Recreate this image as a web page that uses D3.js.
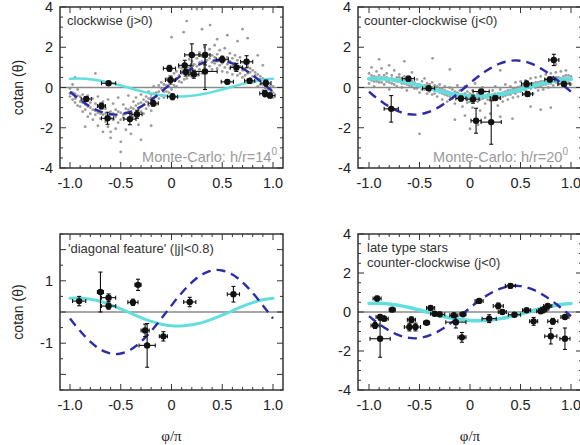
<!DOCTYPE html>
<html><head><meta charset="utf-8">
<script src="https://cdn.jsdelivr.net/npm/d3@7"></script>
<style>body{margin:0;background:#fff}svg{display:block}</style>
</head><body>
<script>
// ---------- DATA ----------
const xTickVals = [-1, -0.5, 0, 0.5, 1];
const xTickLabels = ["-1.0", "-0.5", "0", "0.5", "1.0"];
const yTickLabelsWide = [4, 2, 0, -2, -4];
const yTickLabelsNarrow = [1, -1];

// model curves
const dashX = [-1.0,-0.95,-0.9,-0.85,-0.8,-0.75,-0.7,-0.65,-0.6,-0.55,-0.5,-0.45,-0.4,-0.35,-0.3,-0.25,-0.2,-0.15,-0.1,-0.05,0,0.05,0.1,0.15,0.2,0.25,0.3,0.35,0.4,0.45,0.5,0.55,0.6,0.65,0.7,0.75,0.8,0.85,0.9,0.95,1.0];
const dashY = [-0.21,-0.42,-0.61,-0.79,-0.95,-1.09,-1.20,-1.28,-1.33,-1.35,-1.33,-1.28,-1.20,-1.09,-0.95,-0.79,-0.61,-0.42,-0.21,0,0.21,0.42,0.61,0.79,0.95,1.09,1.20,1.28,1.33,1.35,1.33,1.28,1.20,1.09,0.95,0.79,0.61,0.42,0.21,0,-0.21];
const cyanX = [-1.0,-0.9,-0.8,-0.7,-0.6,-0.5,-0.4,-0.3,-0.2,-0.1,0,0.1,0.2,0.3,0.4,0.5,0.6,0.7,0.8,0.9,1.0];
const cyanY = [0.44,0.45,0.41,0.34,0.23,0.10,-0.04,-0.18,-0.30,-0.39,-0.44,-0.45,-0.41,-0.34,-0.23,-0.10,0.04,0.18,0.30,0.39,0.44];

// Monte-Carlo clouds [x, y]
const cloudCW = [
[-1.0,-0.05],[-1.0,-0.45],[-0.975,-0.6],[-0.975,0.15],[-0.95,-0.3],[-0.95,-0.75],[-0.925,-0.1],[-0.925,-0.9],
[-0.9,-0.45],[-0.9,-0.95],[-0.875,-1.2],[-0.875,-0.35],[-0.85,-0.6],[-0.85,-1.1],[-0.825,-0.4],[-0.825,-1.45],
[-0.8,-0.75],[-0.8,-1.3],[-0.775,-1.6],[-0.775,-0.55],[-0.75,-0.8],[-0.75,-1.35],[-0.725,-0.45],[-0.725,-1.9],
[-0.7,-1.0],[-0.7,-1.55],[-0.675,-2.2],[-0.675,-0.7],[-0.65,-1.05],[-0.65,-1.7],[-0.625,-0.6],[-0.625,-1.95],
[-0.6,-1.2],[-0.6,-2.5],[-0.575,-0.8],[-0.575,-1.6],[-0.55,-1.1],[-0.55,-2.05],[-0.525,-0.5],[-0.525,-1.75],
[-0.5,-1.25],[-0.5,-2.7],[-0.475,-0.85],[-0.475,-1.5],[-0.45,-1.05],[-0.45,-2.1],[-0.425,-0.4],[-0.425,-1.6],
[-0.4,-1.0],[-0.4,-2.3],[-0.375,-0.7],[-0.375,-1.45],[-0.35,-1.25],[-0.35,-0.5],[-0.325,-0.8],[-0.325,-1.85],
[-0.3,-0.35],[-0.3,-1.2],[-0.275,-1.3],[-0.275,-0.6],[-0.25,-0.45],[-0.25,-1.05],[-0.225,-0.9],[-0.225,-0.2],
[-0.2,-0.35],[-0.2,-1.15],[-0.175,-0.7],[-0.175,0.05],[-0.15,-0.25],[-0.15,-0.85],[-0.125,0.1],[-0.125,-0.55],
[-0.1,-0.4],[-0.1,0.25],[-0.075,0.15],[-0.075,-0.5],[-0.05,-0.2],[-0.05,0.45],[-0.025,0.35],[-0.025,-0.25],
[0.0,0.5],[0.0,-0.1],[0.025,0.1],[0.025,0.7],[0.05,0.8],[0.05,0.05],[0.075,0.3],[0.075,1.0],
[0.1,0.95],[0.1,0.25],[0.125,0.4],[0.125,1.2],[0.15,1.1],[0.15,0.45],[0.175,0.6],[0.175,1.4],
[0.2,1.3],[0.2,0.55],[0.225,0.75],[0.225,1.6],[0.25,1.45],[0.25,0.6],[0.275,0.9],[0.275,1.75],
[0.3,1.55],[0.3,0.7],[0.325,1.0],[0.325,2.0],[0.35,1.7],[0.35,0.8],[0.375,1.05],[0.375,1.9],
[0.4,1.6],[0.4,0.9],[0.425,1.2],[0.425,2.1],[0.45,1.65],[0.45,0.95],[0.475,1.1],[0.475,1.85],
[0.5,1.55],[0.5,0.8],[0.525,1.0],[0.525,1.95],[0.55,1.5],[0.55,0.75],[0.575,0.95],[0.575,1.7],
[0.6,1.45],[0.6,0.65],[0.625,0.85],[0.625,1.6],[0.65,1.35],[0.65,0.6],[0.675,0.7],[0.675,1.5],
[0.7,1.25],[0.7,0.5],[0.725,0.6],[0.725,1.2],[0.75,1.05],[0.75,0.4],[0.775,0.45],[0.775,0.95],
[0.8,0.85],[0.8,0.25],[0.825,0.3],[0.825,0.75],[0.85,0.65],[0.85,0.05],[0.875,0.15],[0.875,0.55],
[0.9,0.45],[0.9,-0.15],[0.925,-0.05],[0.925,0.35],[0.95,0.2],[0.95,-0.35],[0.975,-0.3],[0.975,0.1],
[1.0,0.05],[1.0,-0.5],
[0.0,2.5],[0.15,3.3],[0.25,3.9],[0.3,2.9],[0.45,2.4],[0.55,2.6],[0.65,2.3],[0.7,2.9],[0.75,2.45],[0.12,2.75],
[0.38,3.1],[-0.85,-1.95],[-0.5,-3.2],[-0.3,-2.6],[-0.75,0.7],[-0.95,0.5],[-0.2,-1.9],[0.85,1.6],[0.9,1.1],[-0.6,-2.2]
];
const cloudCWcore = [
[-1.0,-0.3],[-0.975,-0.25],[-0.95,-0.55],[-0.925,-0.4],[-0.9,-0.7],[-0.875,-0.75],[-0.85,-0.85],[-0.825,-0.95],
[-0.8,-1.0],[-0.775,-1.1],[-0.75,-1.15],[-0.725,-1.25],[-0.7,-1.3],[-0.675,-1.35],[-0.65,-1.3],[-0.625,-1.4],
[-0.6,-1.55],[-0.575,-1.3],[-0.55,-1.45],[-0.525,-1.2],[-0.5,-1.6],[-0.475,-1.35],[-0.45,-1.25],[-0.425,-1.1],
[-0.4,-1.35],[-0.375,-1.05],[-0.35,-0.9],[-0.325,-1.1],[-0.3,-0.75],[-0.275,-0.85],[-0.25,-0.7],[-0.225,-0.55],
[-0.2,-0.5],[-0.175,-0.3],[-0.15,-0.45],[-0.125,-0.2],[-0.1,-0.05],[-0.075,-0.2],[-0.05,0.1],[-0.025,0.05],
[0.0,0.3],[0.025,0.4],[0.05,0.45],[0.075,0.6],[0.1,0.7],[0.125,0.8],[0.15,0.85],[0.175,1.0],
[0.2,0.9],[0.225,1.15],[0.25,1.05],[0.275,1.25],[0.3,1.3],[0.325,1.2],[0.35,1.35],[0.375,1.45],
[0.4,1.25],[0.425,1.5],[0.45,1.3],[0.475,1.45],[0.5,1.2],[0.525,1.35],[0.55,1.15],[0.575,1.3],
[0.6,1.05],[0.625,1.2],[0.65,0.95],[0.675,1.05],[0.7,0.85],[0.725,0.9],[0.75,0.7],[0.775,0.75],
[0.8,0.55],[0.825,0.6],[0.85,0.35],[0.875,0.4],[0.9,0.15],[0.925,0.2],[0.95,-0.1],[0.975,-0.05],[1.0,-0.25]
];
const cloudCCW = [
[-1.0,0.7],[-1.0,0.2],[-0.975,0.35],[-0.975,1.0],[-0.95,0.55],[-0.95,0.05],[-0.925,0.8],[-0.925,0.3],
[-0.9,0.25],[-0.9,0.6],[-0.875,0.5],[-0.875,0.95],[-0.85,0.15],[-0.85,0.45],[-0.825,0.7],[-0.825,0.3],
[-0.8,0.4],[-0.8,-0.1],[-0.775,0.6],[-0.775,0.2],[-0.75,0.35],[-0.75,0.85],[-0.725,0.05],[-0.725,0.5],
[-0.7,0.3],[-0.7,0.65],[-0.675,0.45],[-0.675,0.0],[-0.65,0.2],[-0.65,0.55],[-0.625,0.35],[-0.625,-0.15],
[-0.6,0.1],[-0.6,0.5],[-0.575,0.3],[-0.575,0.75],[-0.55,-0.05],[-0.55,0.25],[-0.525,0.4],[-0.525,0.1],
[-0.5,0.15],[-0.5,-0.25],[-0.475,0.3],[-0.475,0.0],[-0.45,-0.1],[-0.45,0.45],[-0.425,0.2],[-0.425,-0.3],
[-0.4,-0.05],[-0.4,0.15],[-0.375,0.25],[-0.375,-0.35],[-0.35,-0.15],[-0.35,0.1],[-0.325,0.05],[-0.325,-0.45],
[-0.3,-0.25],[-0.3,0.15],[-0.275,-0.05],[-0.275,-0.6],[-0.25,-0.35],[-0.25,0.05],[-0.225,-0.2],[-0.225,-0.7],
[-0.2,-0.45],[-0.2,0.0],[-0.175,-0.1],[-0.175,-0.55],[-0.15,-0.4],[-0.15,-0.8],[-0.125,-0.25],[-0.125,0.1],
[-0.1,-0.6],[-0.1,-0.15],[-0.075,-0.35],[-0.075,-0.95],[-0.05,-0.5],[-0.05,0.05],[-0.025,-0.2],[-0.025,-0.75],
[0.0,-0.55],[0.0,-0.3],[0.025,-0.15],[0.025,-1.0],[0.05,-0.45],[0.05,0.2],[0.075,-0.7],[0.075,-0.3],
[0.1,-0.35],[0.1,-1.15],[0.125,-0.55],[0.125,0.0],[0.15,-0.2],[0.15,-0.8],[0.175,-0.6],[0.175,-0.35],
[0.2,-0.4],[0.2,-1.3],[0.225,-0.15],[0.225,-0.65],[0.25,-0.5],[0.25,0.05],[0.275,-0.3],[0.275,-0.9],
[0.3,-0.55],[0.3,-0.1],[0.325,-0.25],[0.325,-0.7],[0.35,-0.4],[0.35,0.15],[0.375,-0.15],[0.375,-0.6],
[0.4,-0.35],[0.4,0.05],[0.425,-0.05],[0.425,-0.5],[0.45,-0.3],[0.45,0.25],[0.475,0.0],[0.475,-0.45],
[0.5,-0.2],[0.5,0.3],[0.525,0.05],[0.525,-0.35],[0.55,-0.15],[0.55,0.35],[0.575,0.1],[0.575,-0.25],
[0.6,-0.05],[0.6,0.45],[0.625,0.2],[0.625,-0.3],[0.65,0.0],[0.65,0.5],[0.675,0.25],[0.675,-0.15],
[0.7,0.05],[0.7,0.55],[0.725,0.3],[0.725,-0.1],[0.75,0.15],[0.75,0.65],[0.775,0.4],[0.775,0.0],
[0.8,0.2],[0.8,0.7],[0.825,0.45],[0.825,0.1],[0.85,0.25],[0.85,0.75],[0.875,0.5],[0.875,0.15],
[0.9,0.3],[0.9,0.8],[0.925,0.55],[0.925,0.2],[0.95,0.35],[0.95,0.85],[0.975,0.6],[0.975,0.25],
[1.0,0.4],[1.0,0.15],
[-0.9,1.4],[-0.65,1.3],[-0.37,1.45],[-0.5,-2.3],[-0.15,-1.6],[0.0,-2.05],[0.08,-1.85],[0.3,-1.45],[0.42,-1.55],
[0.6,-0.95],[0.7,-1.1],[0.8,-1.0],[-0.8,1.1],[0.15,-1.5],[0.85,1.15],[-0.2,0.9],[0.3,0.85],[-0.05,-1.4]
];
const cloudCCWcore = [
[-1.0,0.45],[-0.975,0.6],[-0.95,0.3],[-0.925,0.5],[-0.9,0.4],[-0.875,0.25],[-0.85,0.6],[-0.825,0.5],
[-0.8,0.25],[-0.775,0.45],[-0.75,0.15],[-0.725,0.3],[-0.7,0.5],[-0.675,0.2],[-0.65,0.35],[-0.625,0.15],
[-0.6,0.3],[-0.575,0.05],[-0.55,0.2],[-0.525,-0.05],[-0.5,0.05],[-0.475,-0.1],[-0.45,0.1],[-0.425,-0.05],
[-0.4,-0.2],[-0.375,0.0],[-0.35,-0.3],[-0.325,-0.15],[-0.3,-0.1],[-0.275,-0.3],[-0.25,-0.15],[-0.225,-0.4],
[-0.2,-0.25],[-0.175,-0.35],[-0.15,-0.2],[-0.125,-0.5],[-0.1,-0.35],[-0.075,-0.55],[-0.05,-0.3],[-0.025,-0.45],
[0.0,-0.7],[0.025,-0.4],[0.05,-0.6],[0.075,-0.45],[0.1,-0.6],[0.125,-0.3],[0.15,-0.5],[0.175,-0.45],
[0.2,-0.65],[0.225,-0.35],[0.25,-0.3],[0.275,-0.45],[0.3,-0.35],[0.325,-0.45],[0.35,-0.2],[0.375,-0.35],
[0.4,-0.15],[0.425,-0.25],[0.45,-0.05],[0.475,-0.2],[0.5,0.05],[0.525,-0.1],[0.55,0.1],[0.575,0.0],
[0.6,0.2],[0.625,0.05],[0.65,0.25],[0.675,0.1],[0.7,0.3],[0.725,0.15],[0.75,0.4],[0.775,0.2],
[0.8,0.45],[0.825,0.3],[0.85,0.5],[0.875,0.35],[0.9,0.45],[0.925,0.4],[0.95,0.6],[0.975,0.4],[1.0,0.55]
];

// binned measurements [x, y, xErr, yErr]
const pointsCW = [
[-0.84,-0.57,0.05,0.12],[-0.62,0.21,0.07,0.1],[-0.69,-0.92,0.04,0.15],[-0.63,-1.53,0.06,0.3],
[-0.41,-1.57,0.06,0.28],[-0.34,-1.33,0.05,0.2],[-0.18,-0.78,0.05,0.15],[0.01,-0.46,0.05,0.15],
[-0.01,0.37,0.05,0.2],[-0.02,0.95,0.06,0.15],[0.13,1.10,0.06,0.25],[0.14,0.77,0.05,0.2],
[0.20,1.62,0.07,0.55],[0.22,0.66,0.05,0.2],[0.33,1.62,0.05,0.5],[0.33,0.8,0.12,0.9],
[0.50,1.40,0.06,0.15],[0.55,0.28,0.06,0.1],[0.64,1.0,0.06,0.2],[0.74,1.28,0.06,0.3],
[0.77,0.33,0.05,0.12],[0.93,0.22,0.05,0.15],[0.92,-0.30,0.05,0.15],[0.97,-0.40,0.05,0.12]
];
const pointsCCW = [
[-0.78,-1.06,0.07,0.66],[-0.61,0.44,0.06,0.12],[-0.41,-0.04,0.06,0.1],[-0.09,-0.55,0.05,0.12],
[0.03,-0.58,0.06,0.2],[0.06,-1.65,0.05,0.62],[0.11,-0.2,0.08,0.1],[0.21,-1.72,0.1,1.1],
[0.25,-0.52,0.05,0.1],[0.56,0.18,0.05,0.15],[0.57,-0.32,0.05,0.12],[0.79,0.4,0.05,0.12],
[0.83,1.37,0.05,0.28],[0.93,0.18,0.06,0.12]
];
const pointsDiag = [
[-0.91,0.35,0.065,0.15],[-0.70,0.64,0.03,0.64],[-0.62,0.46,0.07,0.12],[-0.62,0.19,0.07,0.1],
[-0.38,0.31,0.05,0.1],[-0.33,0.87,0.03,0.18],[-0.26,-0.59,0.04,0.2],[-0.24,-1.07,0.08,0.7],
[-0.08,-0.78,0.04,0.15],[0.18,0.32,0.06,0.15],[0.61,0.57,0.06,0.25]
];
const pointsLate = [
[-0.92,0.69,0.04,0.12],[-0.94,-0.69,0.04,0.15],[-0.89,-0.26,0.04,0.12],[-0.85,-0.34,0.04,0.12],
[-0.89,-1.37,0.1,0.95],[-0.77,0.12,0.03,0.08],[-0.60,-0.77,0.05,0.2],[-0.58,-0.40,0.04,0.15],
[-0.54,-0.77,0.05,0.2],[-0.43,-0.55,0.03,0.08],[-0.39,0.21,0.04,0.1],[-0.35,-0.09,0.04,0.1],
[-0.30,-0.12,0.05,0.12],[-0.16,-0.17,0.04,0.1],[-0.14,-0.52,0.1,0.3],[-0.08,-1.30,0.04,0.25],
[-0.07,-0.12,0.03,0.08],[0.09,0.57,0.04,0.12],[0.19,-0.34,0.07,0.2],[0.28,0.31,0.05,0.15],
[0.32,0.0,0.04,0.1],[0.40,1.34,0.05,0.12],[0.44,-0.14,0.06,0.1],[0.56,0.09,0.04,0.06],
[0.63,-0.48,0.04,0.2],[0.70,0.04,0.04,0.08],[0.72,0.09,0.04,0.08],[0.74,0.17,0.04,0.08],
[0.77,0.31,0.04,0.08],[0.82,-0.48,0.05,0.15],[0.80,-1.24,0.06,0.4],[0.94,-0.26,0.04,0.1],
[0.94,-1.37,0.05,0.55]
];

const titles = {
  cw: ["clockwise (j>0)"],
  ccw: ["counter-clockwise (j<0)"],
  diag: ["'diagonal feature' (|j|<0.8)"],
  late: ["late type stars", "counter-clockwise (j<0)"]
};
const mcLabels = { cw: ["Monte-Carlo: h/r=14", "0"], ccw: ["Monte-Carlo: h/r=20", "0"] };

// ---------- DRAWING ----------
const svg = d3.select("body").append("svg").attr("width", 580).attr("height", 445);
svg.append("rect").attr("width", 580).attr("height", 445).attr("fill", "#fff");

const FONT = "'Liberation Sans', Arial, sans-serif";
const dashPts = dashX.map((x, i) => [x, dashY[i]]);
const cyanPts = cyanX.map((x, i) => [x, cyanY[i]]);

const panels = [
  { id: "cw", fx0: 60, fx1: 283, fy0: 7, fy1: 168, xr: [70, 273], yd: [-4, 4], ymaj: 2, ymin: 0.5, ylabels: yTickLabelsWide,
    cloud: cloudCW.concat(cloudCWcore), pts: pointsCW, mc: mcLabels.cw, cyanW: 2.5, ytitle: true, xtitle: false, tx: 67, ty: 25 },
  { id: "ccw", fx0: 358, fx1: 582, fy0: 7, fy1: 168, xr: [369, 571], yd: [-4, 4], ymaj: 2, ymin: 0.5, ylabels: yTickLabelsWide,
    cloud: cloudCCW.concat(cloudCCWcore), pts: pointsCCW, mc: mcLabels.ccw, cyanW: 4, ytitle: false, xtitle: false, tx: 364, ty: 25 },
  { id: "diag", fx0: 60, fx1: 283, fy0: 234, fy1: 390, xr: [70, 273], yd: [-2.5, 2.5], ymaj: 1, ymin: 0.5, ylabels: yTickLabelsNarrow,
    cloud: null, pts: pointsDiag, mc: null, cyanW: 3, ytitle: true, xtitle: true, tx: 68, ty: 253 },
  { id: "late", fx0: 358, fx1: 582, fy0: 234, fy1: 390, xr: [369, 571], yd: [-4, 4], ymaj: 2, ymin: 0.5, ylabels: yTickLabelsWide,
    cloud: null, pts: pointsLate, mc: null, cyanW: 3.5, ytitle: false, xtitle: true, tx: 367, ty: 252 }
];

panels.forEach((p, pi) => {
  const x = d3.scaleLinear().domain([-1, 1]).range(p.xr);
  const y = d3.scaleLinear().domain(p.yd).range([p.fy1, p.fy0]);
  const g = svg.append("g");
  const clipId = "clip" + pi;
  svg.append("clipPath").attr("id", clipId).append("rect")
    .attr("x", p.fx0).attr("y", p.fy0).attr("width", p.fx1 - p.fx0).attr("height", p.fy1 - p.fy0);
  const inner = g.append("g").attr("clip-path", `url(#${clipId})`);

  if (p.cloud) {
    inner.append("g").selectAll("circle").data(p.cloud).join("circle")
      .attr("cx", d => x(d[0])).attr("cy", d => y(d[1])).attr("r", 1.4)
      .attr("fill", "#9c9c9c");
  }
  inner.append("line").attr("x1", p.fx0).attr("x2", p.fx1).attr("y1", y(0)).attr("y2", y(0))
    .attr("stroke", "#8a8a8a").attr("stroke-width", 1.5);

  const line = d3.line().x(d => x(d[0])).y(d => y(d[1])).curve(d3.curveNatural);
  inner.append("path").attr("d", line(cyanPts)).attr("fill", "none")
    .attr("stroke", "#62dede").attr("stroke-width", p.cyanW).attr("stroke-linecap", "round");
  inner.append("path").attr("d", line(dashPts)).attr("fill", "none")
    .attr("stroke", "#2c2ca8").attr("stroke-width", 2.4).attr("stroke-dasharray", "9,6");

  const pg = inner.append("g").attr("stroke", "#111").attr("stroke-width", 1.1);
  p.pts.forEach(d => {
    const cx = x(d[0]), cy = y(d[1]);
    const xl = x(d[0] - d[2]), xh = x(d[0] + d[2]);
    const yl = y(d[1] - d[3]), yh = y(d[1] + d[3]);
    pg.append("line").attr("x1", xl).attr("x2", xh).attr("y1", cy).attr("y2", cy);
    pg.append("line").attr("x1", cx).attr("x2", cx).attr("y1", yl).attr("y2", yh);
    pg.append("line").attr("x1", xl).attr("x2", xl).attr("y1", cy - 2).attr("y2", cy + 2);
    pg.append("line").attr("x1", xh).attr("x2", xh).attr("y1", cy - 2).attr("y2", cy + 2);
    pg.append("line").attr("x1", cx - 2).attr("x2", cx + 2).attr("y1", yl).attr("y2", yl);
    pg.append("line").attr("x1", cx - 2).attr("x2", cx + 2).attr("y1", yh).attr("y2", yh);
    pg.append("circle").attr("cx", cx).attr("cy", cy).attr("r", 3.2).attr("fill", "#111").attr("stroke", "none");
  });

  titles[p.id].forEach((t, i) => {
    g.append("text").attr("x", p.tx).attr("y", p.ty + i * 15).text(t)
      .attr("font-family", FONT).attr("font-size", 13).attr("fill", "#333");
  });
  if (p.mc) {
    const t = g.append("text").attr("x", p.id === "cw" ? 277 : 568).attr("y", 162)
      .attr("text-anchor", "end").attr("font-family", FONT).attr("font-size", 14.5).attr("fill", "#9a9a9a");
    t.append("tspan").text(p.mc[0]);
    t.append("tspan").attr("dy", -7).attr("font-size", 10).text(p.mc[1]);
  }

  g.append("rect").attr("x", p.fx0).attr("y", p.fy0).attr("width", p.fx1 - p.fx0).attr("height", p.fy1 - p.fy0)
    .attr("fill", "none").attr("stroke", "#333").attr("stroke-width", 1.5);

  const tg = g.append("g").attr("stroke", "#333").attr("stroke-width", 1);
  const xMinor = d3.range(-10, 11).map(k => k / 10);
  xMinor.forEach(v => {
    const major = Math.abs(v * 2 - Math.round(v * 2)) < 1e-6;
    const L = major ? 6 : 3;
    tg.append("line").attr("x1", x(v)).attr("x2", x(v)).attr("y1", p.fy1).attr("y2", p.fy1 - L);
    tg.append("line").attr("x1", x(v)).attr("x2", x(v)).attr("y1", p.fy0).attr("y2", p.fy0 + L);
  });
  const nY = Math.round((p.yd[1] - p.yd[0]) / p.ymin);
  for (let k = 0; k <= nY; k++) {
    const v = p.yd[0] + k * p.ymin;
    const major = Math.abs(v / p.ymaj - Math.round(v / p.ymaj)) < 1e-6;
    const L = major ? 6 : 3;
    tg.append("line").attr("x1", p.fx0).attr("x2", p.fx0 + L).attr("y1", y(v)).attr("y2", y(v));
    tg.append("line").attr("x1", p.fx1).attr("x2", p.fx1 - L).attr("y1", y(v)).attr("y2", y(v));
  }

  xTickVals.forEach((v, i) => {
    g.append("text").attr("x", x(v)).attr("y", p.fy1 + 20).attr("text-anchor", "middle")
      .attr("font-family", FONT).attr("font-size", 14.5).attr("fill", "#222").text(xTickLabels[i]);
  });
  p.ylabels.forEach(v => {
    g.append("text").attr("x", p.fx0 - 7).attr("y", y(v)).attr("dy", "0.36em").attr("text-anchor", "end")
      .attr("font-family", FONT).attr("font-size", 14.5).attr("fill", "#222").text(v);
  });

  if (p.ytitle) {
    const cy = (p.fy0 + p.fy1) / 2;
    g.append("text").attr("transform", `translate(18,${cy}) rotate(-90)`).attr("text-anchor", "middle")
      .attr("dy", "0.35em").attr("font-family", FONT).attr("font-size", 14).attr("fill", "#222").text("cotan (θ)");
  }
  if (p.xtitle) {
    g.append("text").attr("x", (p.xr[0] + p.xr[1]) / 2).attr("y", 441).attr("text-anchor", "middle")
      .attr("font-family", "'Liberation Serif', 'DejaVu Serif', serif").attr("font-size", 15).attr("fill", "#222").text("φ/π");
  }
});
</script>
</body></html>
